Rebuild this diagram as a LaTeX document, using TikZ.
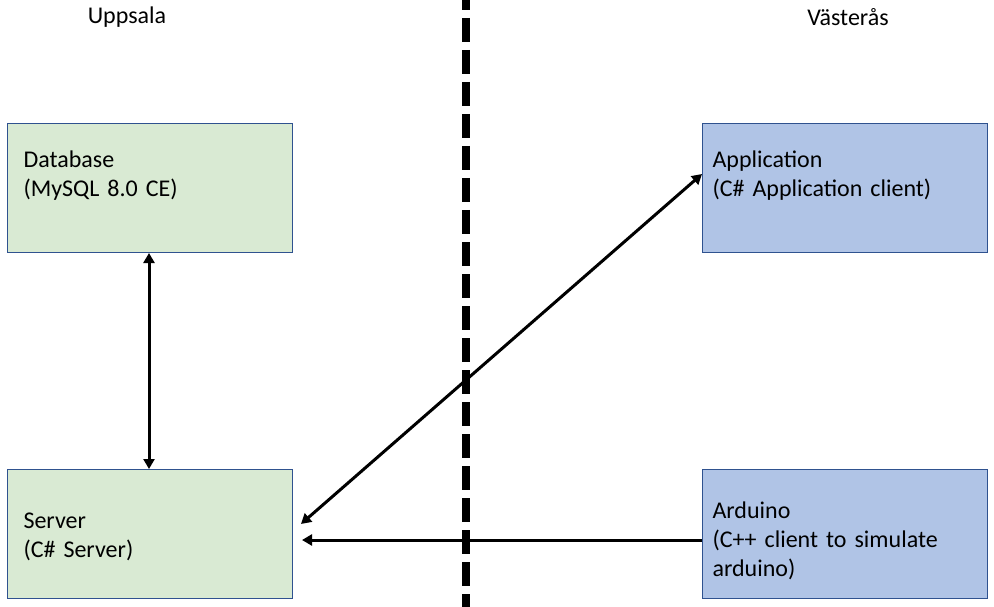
\documentclass[tikz,border=0pt]{standalone}
\usepackage{fontspec}
\setmainfont{Carlito}
\usetikzlibrary{arrows.meta,positioning}

\definecolor{siteborder}{HTML}{2F528F}
\definecolor{uppsalafill}{HTML}{D9EAD3}
\definecolor{vasterasfill}{HTML}{B0C4E6}

\begin{document}
\begin{tikzpicture}[x=1pt,y=-1pt,>={Triangle[width=11pt,length=10pt]},node distance=10mm,
    sitebox/.style={rectangle,draw=siteborder,line width=1pt,minimum width=285pt,minimum height=129pt,
        text width=253pt,inner xsep=16pt,align=left,font=\fontsize{24}{29}\selectfont},
    greenbox/.style={sitebox,fill=uppsalafill},
    bluebox/.style={sitebox,fill=vasterasfill,text width=265pt,inner xsep=10pt},
    link/.style={line width=3pt},
    sitelabel/.style={font=\fontsize{24}{29}\selectfont}]

                \useasboundingbox (0,0) rectangle (994,607);

                \node[greenbox,anchor=north west] (db) at (7,123) {\rule{0pt}{25pt}Database\\(MySQL 8.0 CE)\\\strut};

                \node[greenbox] (srv) [below=216pt of db] {\rule{0pt}{21pt}Server\\(C\# Server)};

                \node[bluebox] (app) [right=409pt of db] {\rule{0pt}{25pt}Application\\(C\# Application client)\\\strut};

                \node[bluebox] (ard) [right=409pt of srv] {\rule{0pt}{30pt}Arduino\\(C++ client to simulate\\arduino)};

                

                \node[sitelabel] (uppsala) at (127,17) {Uppsala};

                \node[sitelabel] (vasteras) at (848,17) {Västerås};

                

                % border between the two sites
                \coordinate (bordertop) at (466,0);
                \coordinate (borderbot) at (466,607);
                \draw[line width=8pt,dash pattern=on 24pt off 8pt,dash phase=14pt] (bordertop) -- (borderbot);

                

                \draw[link,<->] ([xshift=-1pt]db.south) -- ([xshift=-1pt]srv.north);

                \draw[link,<->] ([xshift=8pt,yshift=10pt]srv.east) -- ([yshift=14pt]app.west);

                \draw[link,->] ([yshift=-6pt]ard.west) -- ([xshift=9pt,yshift=-6pt]srv.east);

            \end{tikzpicture}
\end{document}
